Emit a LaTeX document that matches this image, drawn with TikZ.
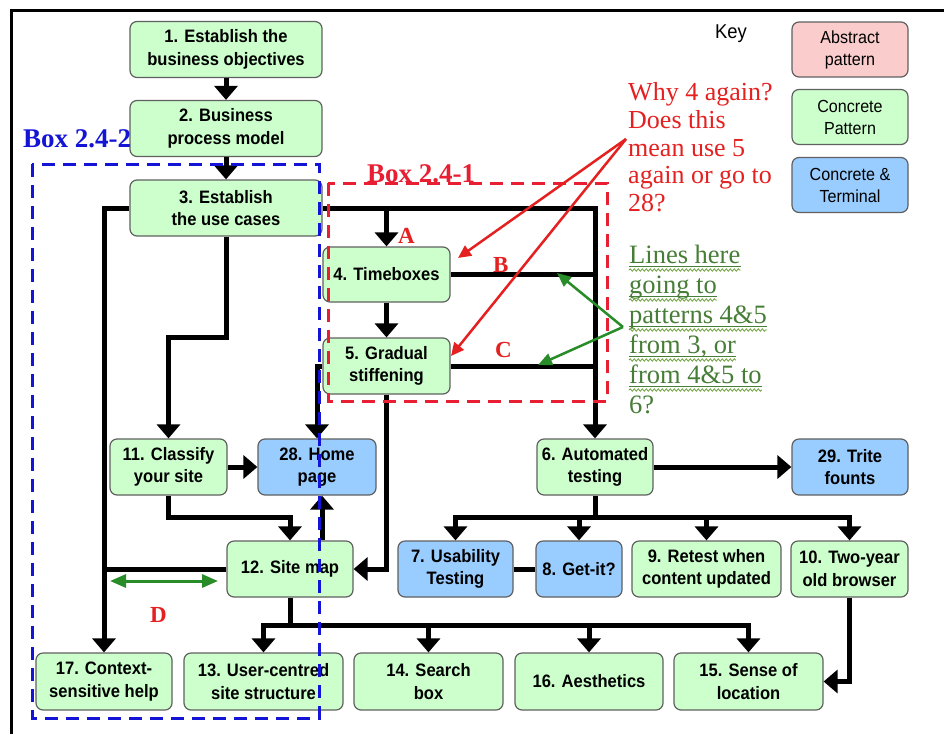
\documentclass[tikz,border=0pt]{standalone}
\usepackage{fontspec}
\setmainfont{Liberation Serif}
\newfontfamily\arialf{Liberation Sans}[FakeStretch=0.92]
\usetikzlibrary{arrows.meta,decorations.pathmorphing}
\definecolor{boxgreen}{RGB}{204,255,204}
\definecolor{boxblue}{RGB}{153,204,255}
\definecolor{boxpink}{RGB}{250,204,204}
\definecolor{edgegray}{RGB}{96,96,96}
\definecolor{notered}{RGB}{228,32,32}
\definecolor{notegreen}{RGB}{40,140,40}
\definecolor{textgreen}{RGB}{70,125,55}
\definecolor{squiggle}{RGB}{110,160,60}
\definecolor{dashblue}{RGB}{20,20,215}
\definecolor{dashred}{RGB}{232,30,50}

\begin{document}
\begin{tikzpicture}[x=1pt,y=-1pt,
  pbox/.style={rectangle, rounded corners=7pt, draw=edgegray, line width=1.2pt,
    font=\arialf\bfseries\fontsize{18}{22.5}\selectfont, align=center,
    inner sep=1pt, minimum height=56pt},
  gbox/.style={pbox, fill=boxgreen},
  bbox/.style={pbox, fill=boxblue},
  keybox/.style={pbox, font=\arialf\fontsize{17.5}{22}\selectfont, minimum width=116pt, minimum height=55pt},
  conn/.style={line width=5pt, -{Triangle[width=23pt,length=14pt]}},
  link/.style={line width=5pt},
  redarrow/.style={notered, line width=2.5pt, -{Triangle[width=12pt,length=13pt]}},
  grnarrow/.style={notegreen, line width=2.5pt, -{Triangle[width=12pt,length=14pt]}},
  grndouble/.style={notegreen, line width=3pt,
    {Triangle[width=13pt,length=16pt]}-{Triangle[width=13pt,length=16pt]}},
  boxlabel/.style={font=\bfseries\fontsize{27}{30}\selectfont, anchor=base west, inner sep=0pt},
  letter/.style={notered, font=\bfseries\fontsize{23}{26}\selectfont, anchor=base west, inner sep=0pt},
  redline/.style={notered, font=\fontsize{26}{28}\selectfont, anchor=base west, inner sep=0pt},
  grnline/.style={textgreen, font=\fontsize{26.5}{30}\selectfont, anchor=base west, inner sep=0pt},
  wavy/.style={squiggle, line width=0.8pt, decorate,
    decoration={snake, amplitude=1.2pt, segment length=4pt}},
  groupbox/.style={line width=3pt, dash pattern=on 13pt off 8pt},
]
\useasboundingbox (0,0) rectangle (944,734);
\fill[white] (0,0) rectangle (944,734);

% outer frame
\draw[line width=3pt] (11,734) -- (11,10) -- (944,10);

% pattern boxes
\node[gbox, minimum width=192pt] (n1) at (226,49.5) {1. Establish the\\business objectives};
\node[gbox, minimum width=192pt] (n2) at (226,128.5) {2. Business\\process model};
\node[gbox, minimum width=192pt] (n3) at (226,208) {3. Establish\\the use cases};
\node[gbox, minimum width=127pt, minimum height=55pt] (n4) at (386.5,274.5) {4. Timeboxes};
\node[gbox, minimum width=127pt] (n5) at (386.5,366) {5. Gradual\\stiffening};
\node[gbox, minimum width=116pt] (n6) at (595,467) {6. Automated\\testing};
\node[bbox, minimum width=116pt] (n29) at (850,467) {29. Trite\\founts};
\node[gbox, minimum width=117pt] (n11) at (168.5,467) {11. Classify\\your site};
\node[bbox, minimum width=118pt] (n28) at (317,467) {28. Home\\page};
\node[gbox, minimum width=126pt] (n12) at (290,569) {12. Site map};
\node[bbox, minimum width=115pt] (n7) at (455.5,569) {7. Usability\\Testing};
\node[bbox, minimum width=86pt] (n8) at (579,569) {8. Get-it?};
\node[gbox, minimum width=149pt] (n9) at (706.5,569) {9. Retest when\\content updated};
\node[gbox, minimum width=117pt] (n10) at (849.5,569) {10. Two-year\\old browser};
\node[gbox, minimum width=136pt, minimum height=57pt] (n17) at (104,681.5) {17. Context-\\sensitive help};
\node[gbox, minimum width=159pt, minimum height=57pt] (n13) at (263.5,681.5) {13. User-centred\\site structure};
\node[gbox, minimum width=149pt, minimum height=57pt] (n14) at (428.5,681.5) {14. Search\\box};
\node[gbox, minimum width=148pt, minimum height=57pt] (n16) at (589,681.5) {16. Aesthetics};
\node[gbox, minimum width=149pt, minimum height=57pt] (n15) at (748.5,681.5) {15. Sense of\\location};

% key
\node[anchor=base west, inner sep=0pt, font=\arialf\fontsize{20}{22}\selectfont] (key) at (715,38) {Key};
\node[keybox, fill=boxpink] (k1) at (850,49.5) {Abstract\\pattern};
\node[keybox, fill=boxgreen] (k2) at (850,117) {Concrete\\Pattern};
\node[keybox, fill=boxblue] (k3) at (850,185) {Concrete \&\\Terminal};

% connectors
\draw[conn] (n1.south) -- (n2.north);
\draw[conn] (n2.south) -- (n3.north);
\draw[conn] (n3.west) -| (n17.north);
\draw[conn] (n3.east) -| (n6.north);
\draw[conn] (n4.north |- n3.east) -- (n4.north);
\draw[link] (n4.east) -- (n4.east -| n6.north);
\draw[link] (n5.east) -- (n5.east -| n6.north);
\draw[conn] (n4.south) -- (n5.north);
\draw[conn] (n3.south) -- (n3.south |- 0,337) -| (n11.north);
\draw[conn] (n11.east) -- (n28.west);
\draw[conn] (n5.west) -| (n28.north);
\draw[conn] (n5.south) |- (n12.east);
\draw[conn] (n11.south) -- (n11.south |- 0,517) -| (n12.north);
\draw[conn] (n12.north -| 322,0) -- (n28.south -| 322,0);
\draw[link] (n12.west) -- (n12.west -| n17.north);
\draw[link] (n12.south) -- (n12.south |- 0,625);
\draw[link, line cap=rect] (n13.north |- 0,625) -- (n15.north |- 0,625);
\foreach \t in {n13,n14,n16,n15} \draw[conn] (\t.north |- 0,625) -- (\t.north);
\draw[conn] (n6.east) -- (n29.west);
\draw[link] (n6.south) -- (n6.south |- 0,517);
\draw[link, line cap=rect] (n7.north |- 0,517) -- (n10.north |- 0,517);
\foreach \t in {n7,n8,n9,n10} \draw[conn] (\t.north |- 0,517) -- (\t.north);
\draw[link] (n7.east) -- (n8.west);
\draw[conn] (n10.south) |- (n15.east);

% grouping boxes
\draw[groupbox, dashblue] (32,164) rectangle (319,718);
\draw[groupbox, dashred] (328,183) rectangle (607,401);
\node[boxlabel, dashblue] (lb2) at (23,147) {Box 2.4-2};
\node[boxlabel, dashred] (lb1) at (367,182) {Box 2.4-1};

% labels on the lines
\node[letter] (la) at (398,243) {A};
\node[letter] (lb) at (493,272) {B};
\node[letter] (lc) at (495,357) {C};
\node[letter] (ld) at (150,622) {D};

% red question
\node[redline] (q1) at (628,100) {Why 4 again?};
\node[redline] (q2) at (628,128) {Does this};
\node[redline] (q3) at (628,156) {mean use 5};
\node[redline] (q4) at (628,183) {again or go to};
\node[redline] (q5) at (628,211) {28?};
\coordinate (qsrc) at (626,139);
\coordinate (qt4) at (458,258);
\coordinate (qt5) at (451,356);
\draw[redarrow] (qsrc) -- (qt4);
\draw[redarrow] (qsrc) -- (qt5);

% green question
\node[grnline] (g1) at (629,263) {Lines here};
\node[grnline] (g2) at (629,293) {going to};
\node[grnline] (g3) at (629,323) {patterns 4\&5};
\node[grnline] (g4) at (629,353) {from 3, or};
\node[grnline] (g5) at (629,383) {from 4\&5 to};
\node[grnline] (g6) at (629,413) {6?};
\foreach \g in {g1,g2,g3,g4,g5} {
  \draw[textgreen, line width=1pt] ([yshift=-3pt]\g.base west) -- ([yshift=-3pt]\g.base east);
  \draw[wavy] ([yshift=-7pt]\g.base west) -- ([yshift=-7pt]\g.base east);
}
\coordinate (gsrc) at (623,327);
\coordinate (gtb) at (557,273);
\coordinate (gtc) at (538,365);
\draw[grnarrow] (gsrc) -- (gtb);
\draw[grnarrow] (gsrc) -- (gtc);
\coordinate (dl) at (110,581);
\coordinate (dr) at (218,581);
\draw[grndouble] (dl) -- (dr);
\end{tikzpicture}
\end{document}
